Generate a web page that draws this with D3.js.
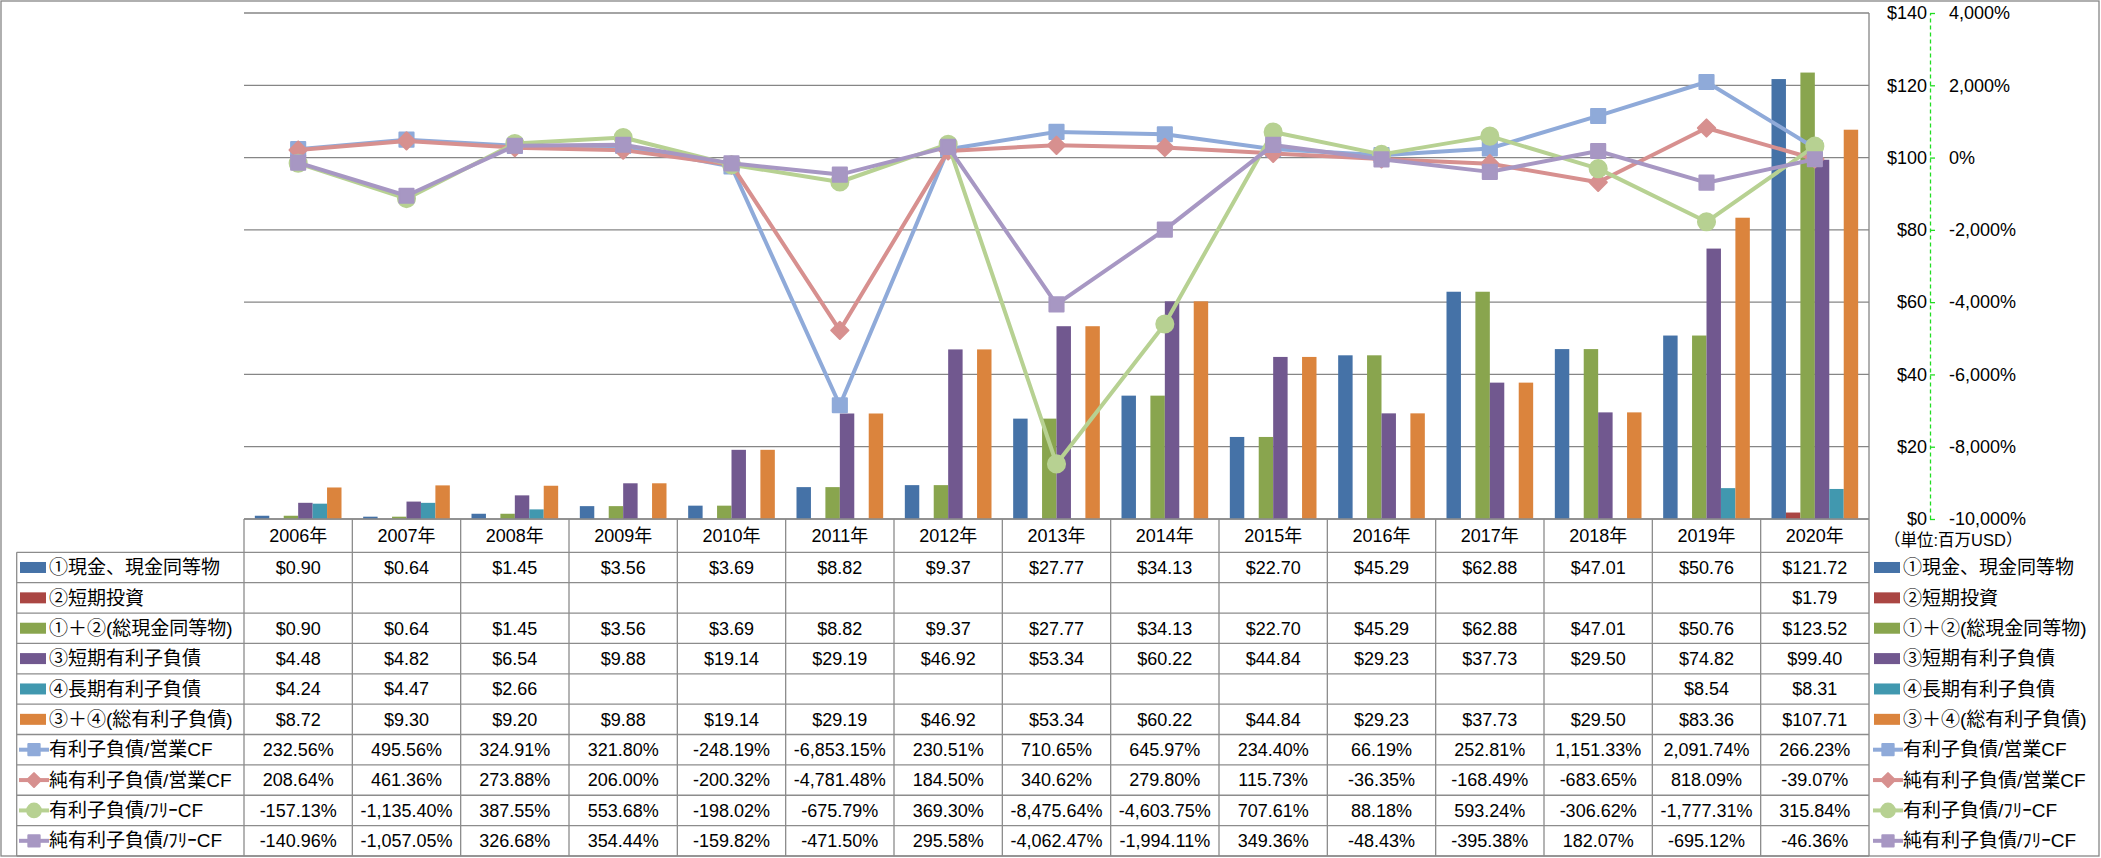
<!DOCTYPE html>
<meta charset="utf-8">
<title>有利子負債と現金</title>
<style>
  body { margin: 0; background: #fff; }
  svg { display: block; }
  text { font-family: "Liberation Sans", "Noto Sans CJK JP", sans-serif; fill: #000; }
  .grid { stroke: #868686; stroke-width: 1.3px; }
  .cell { stroke: #8c8c8c; stroke-width: 1.3px; }
  .series-line { fill: none; stroke-width: 4px; stroke-linejoin: round; }
</style>
<body>
<script src="https://d3js.org/d3.v7.min.js"></script>
<script>

var years = ["2006年","2007年","2008年","2009年","2010年","2011年","2012年","2013年","2014年","2015年","2016年","2017年","2018年","2019年","2020年"];

var cash      = [0.90,0.64,1.45,3.56,3.69,8.82,9.37,27.77,34.13,22.70,45.29,62.88,47.01,50.76,121.72];
var shortInv  = [null,null,null,null,null,null,null,null,null,null,null,null,null,null,1.79];
var totalCash = [0.90,0.64,1.45,3.56,3.69,8.82,9.37,27.77,34.13,22.70,45.29,62.88,47.01,50.76,123.52];
var shortDebt = [4.48,4.82,6.54,9.88,19.14,29.19,46.92,53.34,60.22,44.84,29.23,37.73,29.50,74.82,99.40];
var longDebt  = [4.24,4.47,2.66,null,null,null,null,null,null,null,null,null,null,8.54,8.31];
var totalDebt = [8.72,9.30,9.20,9.88,19.14,29.19,46.92,53.34,60.22,44.84,29.23,37.73,29.50,83.36,107.71];

var debtOpCF     = [232.56,495.56,324.91,321.80,-248.19,-6853.15,230.51,710.65,645.97,234.40,66.19,252.81,1151.33,2091.74,266.23];
var netDebtOpCF  = [208.64,461.36,273.88,206.00,-200.32,-4781.48,184.50,340.62,279.80,115.73,-36.35,-168.49,-683.65,818.09,-39.07];
var debtFCF      = [-157.13,-1135.40,387.55,553.68,-198.02,-675.79,369.30,-8475.64,-4603.75,707.61,88.18,593.24,-306.62,-1777.31,315.84];
var netDebtFCF   = [-140.96,-1057.05,326.68,354.44,-159.82,-471.50,295.58,-4062.47,-1994.11,349.36,-48.43,-395.38,182.07,-695.12,-46.36];

var moneyTicks = [0,20,40,60,80,100,120,140];
var pctTicks = [-10000,-8000,-6000,-4000,-2000,0,2000,4000];

var barSeries = [
  {name: "①現金、現金同等物", values: cash, color: "#4572A7"},
  {name: "②短期投資", values: shortInv, color: "#AA4643"},
  {name: "①＋②(総現金同等物)", values: totalCash, color: "#89A54E"},
  {name: "③短期有利子負債", values: shortDebt, color: "#71588F"},
  {name: "④長期有利子負債", values: longDebt, color: "#4198AF"},
  {name: "③＋④(総有利子負債)", values: totalDebt, color: "#DB843D"}
];
var lineSeries = [
  {name: "有利子負債/営業CF", values: debtOpCF, color: "#8FAAD9", shape: "square"},
  {name: "純有利子負債/営業CF", values: netDebtOpCF, color: "#D7908F", shape: "diamond"},
  {name: "有利子負債/ﾌﾘｰCF", values: debtFCF, color: "#B7D192", shape: "circle"},
  {name: "純有利子負債/ﾌﾘｰCF", values: netDebtFCF, color: "#A797C3", shape: "square"}
];

var width = 2101, height = 858;
var plotL = 244, plotR = 1869, plotT = 13, plotB = 519;
var headB = 552.3, rowH = 30.37, tableL = 16.7, tableB = 856;

var loc = d3.formatLocale({decimal: ".", thousands: ",", grouping: [3], currency: ["$", ""], minus: "-"});
var fmtMoney = loc.format("$,.2f");
var fmtPct = function(v) { return loc.format(",.2f")(v) + "%"; };

var svg = d3.select("body").append("svg")
  .attr("width", width)
  .attr("height", height);

// outer frame
svg.append("rect")
  .attr("x", 1).attr("y", 1).attr("width", width - 3).attr("height", tableB - 1)
  .attr("fill", "none").attr("stroke", "#868686").attr("stroke-width", 1.3);

var x = d3.scaleBand().domain(years).range([plotL, plotR]);
var xs = d3.scaleBand().domain(d3.range(barSeries.length))
  .range([x.bandwidth() * 0.1, x.bandwidth() * 0.9]);
var y = d3.scaleLinear().domain([0, 140]).range([plotB, plotT]);
var y2 = d3.scaleLinear().domain([-10000, 4000]).range([plotB, plotT]);

// gridlines
svg.append("g").selectAll("line").data(moneyTicks).join("line")
  .attr("class", "grid")
  .attr("x1", plotL).attr("x2", plotR)
  .attr("y1", function(d) { return y(d); }).attr("y2", function(d) { return y(d); });

svg.append("line").attr("class", "grid")
  .attr("x1", plotR).attr("x2", plotR).attr("y1", plotT).attr("y2", tableB);

// bars
var groups = svg.append("g").selectAll("g").data(barSeries).join("g")
  .attr("fill", function(d) { return d.color; });
groups.each(function(s, si) {
  d3.select(this).selectAll("rect")
    .data(s.values.map(function(v, i) { return {v: v, year: years[i]}; }).filter(function(d) { return d.v != null; }))
    .join("rect")
    .attr("x", function(d) { return x(d.year) + xs(si); })
    .attr("width", xs.bandwidth())
    .attr("y", function(d) { return y(d.v); })
    .attr("height", function(d) { return plotB - y(d.v); });
});

function marker(shape, scale) {
  var s = scale || 1;
  if (shape == "square") return d3.symbol().type(d3.symbolSquare).size(200 * s * s)();
  if (shape == "circle") return d3.symbol().type(d3.symbolCircle).size(230 * s * s)();
  return d3.symbol().type(d3.symbolSquare).size(150 * s * s)();
}

// lines
var line = d3.line()
  .x(function(d, i) { return x(years[i]) + x.bandwidth() / 2; })
  .y(function(d) { return y2(d); });

lineSeries.forEach(function(s) {
  var g = svg.append("g");
  g.append("path").attr("class", "series-line")
    .attr("stroke", s.color).attr("d", line(s.values));
  g.selectAll("path.mk").data(s.values).join("path")
    .attr("class", "mk")
    .attr("d", marker(s.shape))
    .attr("fill", s.color)
    .attr("stroke", s.color).attr("stroke-width", 2).attr("stroke-linejoin", "round")
    .attr("transform", function(d, i) {
      return "translate(" + (x(years[i]) + x.bandwidth() / 2) + "," + y2(d) + ")" + (s.shape == "diamond" ? " rotate(45)" : "");
    });
});

// right axes
var axX = 1930;
var tickAxis = svg.append("g").attr("transform", "translate(" + axX + ",0)")
  .call(d3.axisRight(y).tickValues(moneyTicks).tickSize(5).tickFormat("").tickSizeOuter(0));
tickAxis.select(".domain").attr("stroke", "#22dd22").attr("stroke-width", 1.3).attr("stroke-dasharray", "4,3");
tickAxis.selectAll(".tick line").attr("stroke", "#22dd22").attr("stroke-width", 1.3);

var moneyAxis = svg.append("g").attr("transform", "translate(" + axX + ",0)")
  .call(d3.axisLeft(y).tickValues(moneyTicks).tickSize(0).tickPadding(3)
    .tickFormat(function(d) { return "$" + d; }));
moneyAxis.select(".domain").remove();
moneyAxis.selectAll("text").attr("font-size", 18).attr("font-family", null).attr("fill", "#000");

var pctAxis = svg.append("g").attr("transform", "translate(" + axX + ",0)")
  .call(d3.axisRight(y2).tickValues(pctTicks).tickSize(0).tickPadding(19)
    .tickFormat(function(d) { return loc.format(",")(d) + "%"; }));
pctAxis.select(".domain").remove();
pctAxis.selectAll("text").attr("font-size", 18).attr("font-family", null)
  .attr("fill", function(d) { return d < 0 ? "#ff0000" : "#000"; });

svg.append("text").attr("x", 1884).attr("y", 540).attr("dy", "0.35em")
  .attr("font-size", 16.5).text("（単位:百万USD）");

// data table
var rows = barSeries.map(function(s) { return {s: s, bar: true, fmt: fmtMoney}; })
  .concat(lineSeries.map(function(s) { return {s: s, bar: false, fmt: fmtPct}; }));

var table = svg.append("g");
// header
table.append("line").attr("class", "cell").attr("x1", plotL).attr("x2", plotR).attr("y1", plotB).attr("y2", plotB);
table.selectAll("text.year").data(years).join("text")
  .attr("class", "year")
  .attr("x", function(d) { return x(d) + x.bandwidth() / 2; })
  .attr("y", (plotB + headB) / 2).attr("dy", "0.35em")
  .attr("text-anchor", "middle").attr("font-size", 18)
  .text(function(d) { return d; });

// horizontal rules
d3.range(rows.length + 1).forEach(function(i) {
  table.append("line").attr("class", "cell")
    .attr("x1", tableL).attr("x2", plotR)
    .attr("y1", headB + i * rowH).attr("y2", headB + i * rowH);
});
// vertical rules
table.append("line").attr("class", "cell").attr("x1", tableL).attr("x2", tableL).attr("y1", headB).attr("y2", tableB);
years.forEach(function(yr) {
  table.append("line").attr("class", "cell")
    .attr("x1", x(yr)).attr("x2", x(yr)).attr("y1", plotB).attr("y2", tableB);
});

function legendKey(g, r, x0) {
  if (r.bar) {
    g.append("rect").attr("x", x0).attr("y", -5.5).attr("width", 26).attr("height", 11).attr("fill", r.s.color);
  } else {
    g.append("line").attr("x1", x0 - 1).attr("x2", x0 + 29).attr("y1", 0).attr("y2", 0)
      .attr("stroke", r.s.color).attr("stroke-width", 4);
    g.append("path").attr("d", marker(r.s.shape, 0.8))
      .attr("fill", r.s.color).attr("stroke", r.s.color).attr("stroke-width", 2).attr("stroke-linejoin", "round")
      .attr("transform", "translate(" + (x0 + 14) + ",0)" + (r.s.shape == "diamond" ? " rotate(45)" : ""));
  }
  g.append("text").attr("x", x0 + 29).attr("dy", "0.35em").attr("font-size", 19).text(r.s.name);
}

rows.forEach(function(r, i) {
  var cy = headB + i * rowH + rowH / 2;
  legendKey(table.append("g").attr("transform", "translate(0," + cy + ")"), r, 20);
  legendKey(table.append("g").attr("transform", "translate(0," + cy + ")"), r, 1874);
  table.append("g").selectAll("text").data(r.s.values).join("text")
    .attr("x", function(d, j) { return x(years[j]) + x.bandwidth() / 2; })
    .attr("y", cy).attr("dy", "0.35em")
    .attr("text-anchor", "middle").attr("font-size", 18)
    .text(function(d) { return d == null ? "" : r.fmt(d); });
});

</script>
</body>
